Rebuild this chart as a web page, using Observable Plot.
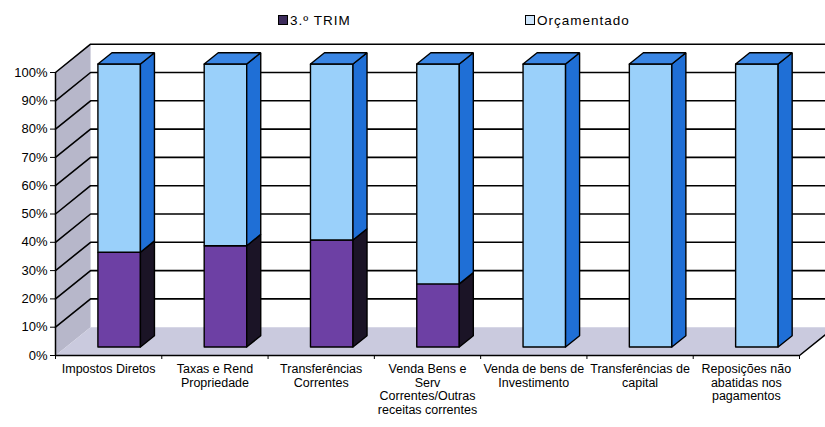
<!DOCTYPE html>
<html><head><meta charset="utf-8">
<script src="https://cdn.jsdelivr.net/npm/d3@7"></script>
<script src="https://cdn.jsdelivr.net/npm/@observablehq/plot@0.6"></script>
<style>
body{margin:0;background:#fff;font-family:"Liberation Sans",Arial,sans-serif;color:#000;}
#legend{position:relative;height:30px;width:825px;font-size:13.5px;}
.item{position:absolute;top:12px;height:16px;display:flex;align-items:center;letter-spacing:1px;white-space:nowrap;}
.sw{width:8px;height:8px;border:1px solid #000;margin-right:2px;}
</style></head><body>
<div id="legend"></div>
<div id="chart"></div>
<script>
// ---- data ----
const categories = [
  "Impostos Diretos",
  "Taxas e Rend Propriedade",
  "Transferências Correntes",
  "Venda Bens e Serv Correntes/Outras receitas correntes",
  "Venda de bens de Investimento",
  "Transferências de capital",
  "Reposições não abatidas nos pagamentos"
];
const tickLabels = [
  "Impostos Diretos",
  "Taxas e Rend\nPropriedade",
  "Transferências\nCorrentes",
  "Venda Bens e\nServ\nCorrentes/Outras\nreceitas correntes",
  "Venda de bens de\nInvestimento",
  "Transferências de\ncapital",
  "Reposições não\nabatidas nos\npagamentos"
];
const seriesNames = ["3.º TRIM", "Orçamentado"];
const trim3 = [33.5, 35.8, 37.8, 22.3, 0, 0, 0];
const orcamentado = [66.5, 64.2, 62.2, 77.7, 100, 100, 100];
const yTicks = [0, 10, 20, 30, 40, 50, 60, 70, 80, 90, 100];

// ---- styles ----
const frontColors = ["#6d40a4", "#9ad0fa"];
const sideColors = ["#1b1426", "#1f6fd6"];
const topColor = "#3a86e4";
const swatchColors = ["#3d2c5c", "#cfe6fb"];
const wallColor = "#b7b7ca";
const floorColor = "#cacade";

// legend (HTML above the SVG)
const legend = d3.select("#legend");
const legendLeft = [278, 525];
seriesNames.forEach((s, k) => {
  const it = legend.append("div").attr("class", "item").style("left", legendLeft[k] + "px");
  it.append("div").attr("class", "sw").style("background", swatchColors[k]);
  it.append("span").text(s);
});

// ---- oblique 3D projection in data space ----
const n = categories.length;
const DX = 0.33, DY = 10;          // full depth of the box (x units, y percentage points)
const F0 = 0.3, F1 = 0.7, HALF = 0.2;
const P = (x, y, f) => ({x: x + f * DX, y: y + f * DY});
const poly = (id, pts, fill) => pts.concat([pts[0]]).map(p => ({...p, id, fill}));

const segments = [];
categories.forEach((c, i) => {
  const vals = [trim3[i], orcamentado[i]];
  const total = d3.sum(vals);
  let y0 = 0;
  vals.forEach((v, s) => {
    const y1 = y0 + v / total * 100;
    if (v > 0) segments.push({i, s, y0, y1});
    y0 = y1;
  });
});
const fronts = [], sides = [], tops = [];
segments.forEach((g, k) => {
  const xl = g.i + 0.5 - HALF, xr = g.i + 0.5 + HALF;
  fronts.push(...poly(k, [P(xl, g.y0, F0), P(xr, g.y0, F0), P(xr, g.y1, F0), P(xl, g.y1, F0)], frontColors[g.s]));
  sides.push(...poly(k, [P(xr, g.y0, F0), P(xr, g.y0, F1), P(xr, g.y1, F1), P(xr, g.y1, F0)], sideColors[g.s]));
  if (g.y1 >= 99.999) tops.push(...poly(k, [P(xl, g.y1, F0), P(xr, g.y1, F0), P(xr, g.y1, F1), P(xl, g.y1, F1)], topColor));
});
const leftWall = poly("wall", [P(0, 0, 0), P(0, 100, 0), P(0, 100, 1), P(0, 0, 1)], wallColor);
const floor = poly("floor", [P(0, 0, 0), P(n, 0, 0), P(n, 0, 1), P(0, 0, 1)], floorColor);
const grid = yTicks.filter(v => v > 0).flatMap(v => [P(0, v, 0), P(0, v, 1), P(n + 1, v, 1)].map(p => ({...p, v})));
const floorEdge = [P(n, 0, 0), P(n, 0, 1)];

const font = '"Liberation Sans", Arial, sans-serif';
const chart = Plot.plot({
  width: 825, height: 397,
  marginLeft: 55, marginRight: 26, marginTop: 42, marginBottom: 72,
  x: {domain: [0, n], label: null},
  y: {domain: [0, 100], label: null},
  color: {type: "identity"},
  style: {fontFamily: font, fontSize: "13px", color: "#000", background: "transparent"},
  marks: [
    Plot.line(leftWall, {x: "x", y: "y", z: "id", fill: "fill", stroke: "none"}),
    Plot.line(floor, {x: "x", y: "y", z: "id", fill: "fill", stroke: "none"}),
    Plot.line(grid, {x: "x", y: "y", z: "v", stroke: "#000", strokeWidth: 1.6, strokeLinejoin: "miter"}),
    Plot.line(floorEdge, {x: "x", y: "y", stroke: "#000", strokeWidth: 1.5}),
    Plot.ruleY([0], {x1: 0, x2: n, stroke: "#000", strokeWidth: 1.5}),
    Plot.ruleX([0], {y1: 0, y2: 100, stroke: "#000", strokeWidth: 1.5}),
    Plot.axisY({ticks: yTicks, tickFormat: d => d + "%", tickSize: 5, tickPadding: 3, fontSize: 13, anchor: "left", label: null}),
    Plot.axisX({ticks: d3.range(n + 1), tickFormat: () => "", tickSize: 4, anchor: "bottom", label: null}),
    Plot.line(fronts, {x: "x", y: "y", z: "id", fill: "fill", stroke: "#000", strokeWidth: 1.4, strokeLinejoin: "miter"}),
    Plot.line(sides, {x: "x", y: "y", z: "id", fill: "fill", stroke: "#000", strokeWidth: 1.4, strokeLinejoin: "miter"}),
    Plot.line(tops, {x: "x", y: "y", z: "id", fill: "fill", stroke: "#000", strokeWidth: 1.4, strokeLinejoin: "miter"}),
    Plot.text(tickLabels, {x: (d, i) => i + 0.5, y: () => 0, text: d => d, lineAnchor: "top", dy: 8, fontSize: 12.5, lineHeight: 1.08})
  ]
});
document.getElementById("chart").appendChild(chart);
</script>
</body></html>
